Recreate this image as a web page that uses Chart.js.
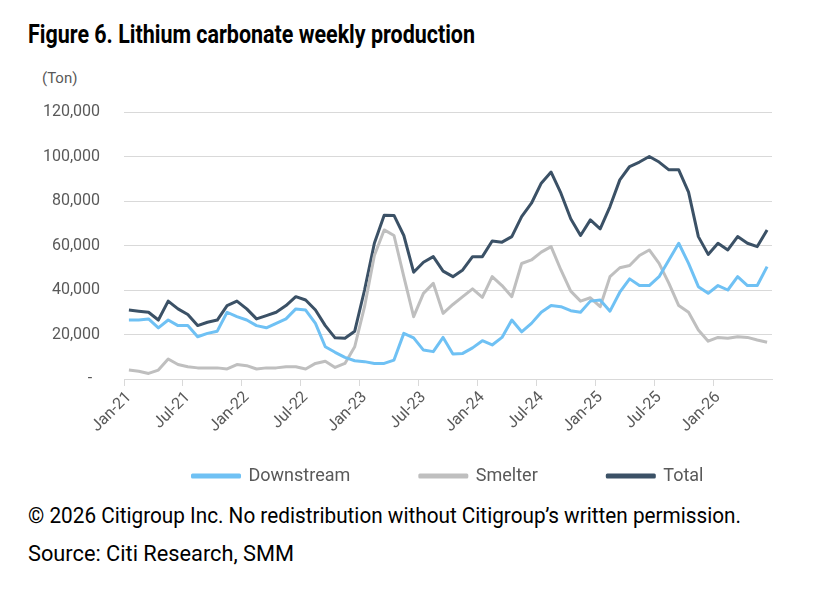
<!DOCTYPE html>
<html>
<head>
<meta charset="utf-8">
<script src="https://cdn.jsdelivr.net/npm/chart.js@4.4.1/dist/chart.umd.min.js"></script>
<style>
  html, body { margin: 0; padding: 0; background: #fff; overflow: hidden; width: 816px; height: 593px; }
  body { position: relative; font-family: Roboto, 'Liberation Sans', sans-serif; }
  .fit { position: absolute; left: 28px; line-height: 1; white-space: nowrap; color: #000; transform-origin: 0 0; }
  #title { top: 21px; font-size: 26px; font-weight: bold; }
  #unit { position: absolute; left: 42px; top: 71px; font-size: 15px; color: #595959; line-height: 1; }
  #wrap { position: absolute; left: 30px; top: 60px; width: 836px; height: 435px; }
  #note { top: 505px; font-size: 22px; }
  #src { top: 543px; font-size: 22px; }
</style>
</head>
<body>
<div id="title" class="fit" data-w="447">Figure 6. Lithium carbonate weekly production</div>
<div id="unit">(Ton)</div>
<div id="wrap"><canvas id="myChart"></canvas></div>
<div id="note" class="fit" data-w="713">© 2026 Citigroup Inc. No redistribution without Citigroup’s written permission.</div>
<div id="src" class="fit" data-w="266">Source: Citi Research, SMM</div>
<script>
// monthly points, Jan-21 .. Jun-26
var years = ['21', '22', '23', '24', '25', '26'];
var monthNames = ['Jan', 'Feb', 'Mar', 'Apr', 'May', 'Jun', 'Jul', 'Aug', 'Sep', 'Oct', 'Nov', 'Dec'];
var months = [];
years.forEach(function (y) {
    monthNames.forEach(function (m) {
        if (months.length < 66) months.push(m + '-' + y);
    });
});

// tons
var downstream = [
    26500, 26500, 27000, 23000, 26500, 24000, 24000, 19000, 20500, 21500, 30000, 28000,
    26500, 24000, 23000, 25000, 27000, 31500, 31000, 25000, 14500, 12000, 9700, 8200,
    7800, 7000, 7000, 8500, 20500, 18500, 13000, 12300, 18700, 11200, 11500, 14000,
    17200, 15300, 18700, 26500, 21200, 25000, 30000, 33000, 32500, 30700, 30000, 35000,
    35500, 30500, 39000, 45000, 42000, 42000, 46000, 53500, 61000, 52000, 41500, 38500,
    42000, 40000, 46000, 42000, 42000, 50500
];
var smelter = [
    4000, 3500, 2500, 4000, 9000, 6500, 5500, 5000, 5000, 5000, 4500, 6500,
    6000, 4500, 5000, 5000, 5500, 5500, 4500, 7000, 8000, 5200, 7000, 14500,
    32500, 55500, 67000, 64500, 46000, 28000, 38500, 43000, 29500, 33500, 37000, 40500,
    36700, 46000, 42000, 37000, 51900, 53500, 57000, 59500, 49000, 39500, 35000, 36500,
    32500, 46000, 50000, 51000, 55500, 58000, 52000, 43000, 33000, 30000, 22000, 17000,
    18700, 18300, 19000, 18700, 17500, 16500
];
var total = [
    31000, 30500, 30000, 26500, 35000, 31500, 29000, 24000, 25500, 26500, 33000, 35000,
    31500, 27000, 28500, 30000, 33000, 37000, 35500, 31000, 24000, 18500, 18300, 21500,
    40000, 61000, 73600, 73500, 64500, 48000, 52500, 55000, 48500, 46000, 49000, 55000,
    55000, 62000, 61500, 64000, 73000, 79000, 88000, 93000, 83500, 72000, 64500, 71500,
    67500, 77500, 89500, 95500, 97500, 100000, 97500, 94000, 94000, 84000, 64000, 56000,
    61000, 58000, 64000, 61000, 59500, 67000
];

// squeeze the condensed-looking texts to their widths in the figure
document.querySelectorAll('.fit').forEach(function (el) {
    var w = el.getBoundingClientRect().width;
    el.style.transform = 'scaleX(' + (parseFloat(el.dataset.w) / w) + ')';
});

var font = "Roboto, 'Liberation Sans', sans-serif";
var grey = '#595959';

var ctx = document.getElementById('myChart').getContext('2d');
var myChart = new Chart(ctx, {
    type: 'line',
    data: {
        labels: months,
        datasets: [{
            label: 'Downstream',
            data: downstream,
            borderColor: '#6fc1f4',
            backgroundColor: '#6fc1f4',
            borderWidth: 3
        }, {
            label: 'Smelter',
            data: smelter,
            borderColor: '#bfbfbf',
            backgroundColor: '#bfbfbf',
            borderWidth: 3
        }, {
            label: 'Total',
            data: total,
            borderColor: '#3b5166',
            backgroundColor: '#3b5166',
            borderWidth: 3
        }]
    },
    options: {
        responsive: true,
        maintainAspectRatio: false,
        animation: false,
        elements: {
            point: { radius: 0 },
            line: { tension: 0, borderJoinStyle: 'round' }
        },
        layout: {
            padding: { top: 52, right: 0, left: 0, bottom: 0 }
        },
        scales: {
            x: {
                offset: true,
                grid: {
                    offset: true,
                    drawOnChartArea: false,
                    drawTicks: true,
                    tickLength: 7,
                    color: function (c) { return c.index % 6 === 0 ? '#d9d9d9' : 'rgba(0,0,0,0)'; }
                },
                border: { display: true, color: '#d9d9d9', width: 1 },
                ticks: {
                    autoSkip: false,
                    maxRotation: 45,
                    minRotation: 45,
                    padding: 2,
                    color: grey,
                    font: { family: font, size: 16 },
                    callback: function (v, i) { return i % 6 === 0 ? months[i] : ''; }
                },
                afterFit: function (s) { s.height = 78; }
            },
            y: {
                min: 0,
                max: 120000,
                grid: { color: '#d9d9d9', drawTicks: false },
                border: { display: false },
                ticks: {
                    stepSize: 20000,
                    padding: 24,
                    color: grey,
                    font: { family: font, size: 16 },
                    callback: function (v) { return v === 0 ? '-  ' : v.toLocaleString('en-US'); }
                },
                afterFit: function (s) { s.width = 94; }
            },
            // empty right-hand spacer so the legend stays centred under the plot
            yRight: {
                position: 'right',
                min: 0,
                max: 120000,
                grid: { display: false },
                border: { display: false },
                ticks: { display: false },
                afterFit: function (s) { s.width = 94; }
            }
        },
        plugins: {
            legend: {
                display: true,
                position: 'bottom',
                labels: {
                    boxWidth: 47,
                    boxHeight: 2,
                    padding: 10,
                    color: grey,
                    font: { family: font, size: 18 },
                    generateLabels: function (chart) {
                        var items = Chart.defaults.plugins.legend.labels.generateLabels(chart);
                        // wide gaps between the legend entries, as in the figure
                        items.forEach(function (it, i) {
                            if (i < items.length - 1) it.text = it.text + '\u2003\u2003\u2003 ';
                        });
                        return items;
                    }
                }
            },
            tooltip: { enabled: false }
        }
    }
});
</script>
</body>
</html>
